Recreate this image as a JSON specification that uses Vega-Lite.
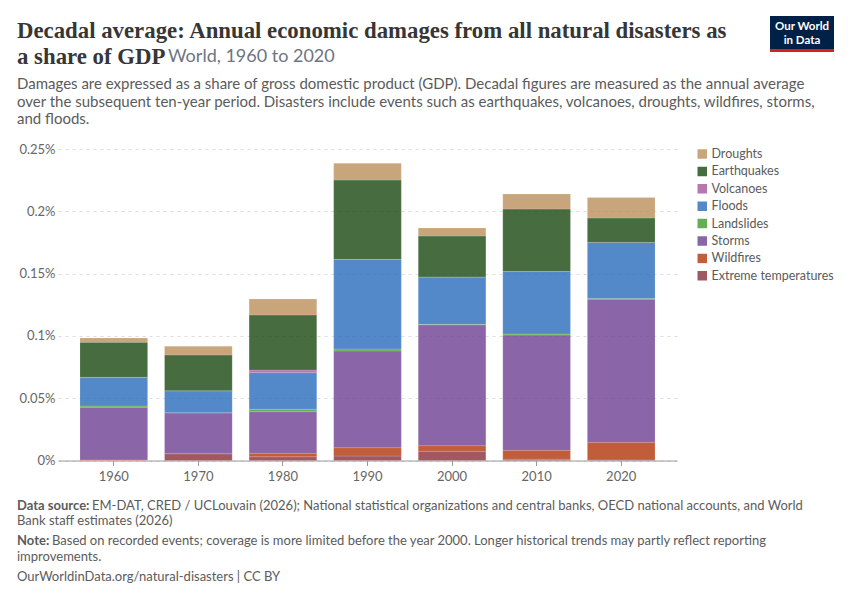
{
  "$schema": "https://vega.github.io/schema/vega-lite/v6.json",
  "width": 619,
  "height": 311.5,
  "autosize": {"type": "none"},
  "padding": {"left": 58, "top": 149, "right": 173, "bottom": 139.5},
  "background": "#ffffff",
  "title": {
    "text": ["Decadal average: Annual economic damages from all natural disasters as", "a share of GDP"],
    "subtitle": [
      "Damages are expressed as a share of gross domestic product (GDP). Decadal figures are measured as the annual average",
      "over the subsequent ten-year period. Disasters include events such as earthquakes, volcanoes, droughts, wildfires, storms,",
      "and floods."
    ],
    "anchor": "start",
    "frame": "group",
    "dx": -41,
    "offset": -111,
    "font": "Liberation Serif",
    "fontSize": 22.8,
    "fontWeight": 700,
    "lineHeight": 26,
    "color": "#363636",
    "subtitleFont": "Lato",
    "subtitleFontSize": 15,
    "subtitleLineHeight": 17.5,
    "subtitleColor": "#5b5b5b",
    "subtitlePadding": 8
  },
  "config": {
    "view": {"stroke": null},
    "text": {"font": "Lato", "align": "left", "baseline": "alphabetic"}
  },
  "layer": [
    {
      "data": {
        "values": [
          {"decade": 1960, "type": "Extreme temperatures", "rank": 1, "share": 0},
          {"decade": 1960, "type": "Wildfires", "rank": 2, "share": 0.0005},
          {"decade": 1960, "type": "Storms", "rank": 3, "share": 0.0422},
          {"decade": 1960, "type": "Landslides", "rank": 4, "share": 0.001},
          {"decade": 1960, "type": "Floods", "rank": 5, "share": 0.0231},
          {"decade": 1960, "type": "Volcanoes", "rank": 6, "share": 0},
          {"decade": 1960, "type": "Earthquakes", "rank": 7, "share": 0.0281},
          {"decade": 1960, "type": "Droughts", "rank": 8, "share": 0.0034},
          {"decade": 1970, "type": "Extreme temperatures", "rank": 1, "share": 0.0055},
          {"decade": 1970, "type": "Wildfires", "rank": 2, "share": 0},
          {"decade": 1970, "type": "Storms", "rank": 3, "share": 0.0327},
          {"decade": 1970, "type": "Landslides", "rank": 4, "share": 0.0002},
          {"decade": 1970, "type": "Floods", "rank": 5, "share": 0.0176},
          {"decade": 1970, "type": "Volcanoes", "rank": 6, "share": 0},
          {"decade": 1970, "type": "Earthquakes", "rank": 7, "share": 0.0287},
          {"decade": 1970, "type": "Droughts", "rank": 8, "share": 0.007},
          {"decade": 1980, "type": "Extreme temperatures", "rank": 1, "share": 0.003},
          {"decade": 1980, "type": "Wildfires", "rank": 2, "share": 0.0028},
          {"decade": 1980, "type": "Storms", "rank": 3, "share": 0.0334},
          {"decade": 1980, "type": "Landslides", "rank": 4, "share": 0.0019},
          {"decade": 1980, "type": "Floods", "rank": 5, "share": 0.0294},
          {"decade": 1980, "type": "Volcanoes", "rank": 6, "share": 0.0021},
          {"decade": 1980, "type": "Earthquakes", "rank": 7, "share": 0.0442},
          {"decade": 1980, "type": "Droughts", "rank": 8, "share": 0.0128},
          {"decade": 1990, "type": "Extreme temperatures", "rank": 1, "share": 0.0036},
          {"decade": 1990, "type": "Wildfires", "rank": 2, "share": 0.0067},
          {"decade": 1990, "type": "Storms", "rank": 3, "share": 0.0776},
          {"decade": 1990, "type": "Landslides", "rank": 4, "share": 0.0016},
          {"decade": 1990, "type": "Floods", "rank": 5, "share": 0.072},
          {"decade": 1990, "type": "Volcanoes", "rank": 6, "share": 0},
          {"decade": 1990, "type": "Earthquakes", "rank": 7, "share": 0.0636},
          {"decade": 1990, "type": "Droughts", "rank": 8, "share": 0.0134},
          {"decade": 2000, "type": "Extreme temperatures", "rank": 1, "share": 0.0074},
          {"decade": 2000, "type": "Wildfires", "rank": 2, "share": 0.0045},
          {"decade": 2000, "type": "Storms", "rank": 3, "share": 0.097},
          {"decade": 2000, "type": "Landslides", "rank": 4, "share": 0.0004},
          {"decade": 2000, "type": "Floods", "rank": 5, "share": 0.038},
          {"decade": 2000, "type": "Volcanoes", "rank": 6, "share": 0},
          {"decade": 2000, "type": "Earthquakes", "rank": 7, "share": 0.0329},
          {"decade": 2000, "type": "Droughts", "rank": 8, "share": 0.0064},
          {"decade": 2010, "type": "Extreme temperatures", "rank": 1, "share": 0.001},
          {"decade": 2010, "type": "Wildfires", "rank": 2, "share": 0.0072},
          {"decade": 2010, "type": "Storms", "rank": 3, "share": 0.0925},
          {"decade": 2010, "type": "Landslides", "rank": 4, "share": 0.0008},
          {"decade": 2010, "type": "Floods", "rank": 5, "share": 0.0502},
          {"decade": 2010, "type": "Volcanoes", "rank": 6, "share": 0},
          {"decade": 2010, "type": "Earthquakes", "rank": 7, "share": 0.0501},
          {"decade": 2010, "type": "Droughts", "rank": 8, "share": 0.0121},
          {"decade": 2020, "type": "Extreme temperatures", "rank": 1, "share": 0.0005},
          {"decade": 2020, "type": "Wildfires", "rank": 2, "share": 0.0141},
          {"decade": 2020, "type": "Storms", "rank": 3, "share": 0.1149},
          {"decade": 2020, "type": "Landslides", "rank": 4, "share": 0.0005},
          {"decade": 2020, "type": "Floods", "rank": 5, "share": 0.045},
          {"decade": 2020, "type": "Volcanoes", "rank": 6, "share": 0},
          {"decade": 2020, "type": "Earthquakes", "rank": 7, "share": 0.0196},
          {"decade": 2020, "type": "Droughts", "rank": 8, "share": 0.0165}
        ]
      },
      "mark": {"type": "bar", "fillOpacity": 0.8, "stroke": "#ffffff", "strokeWidth": 0.5, "strokeOpacity": 0.3},
      "encoding": {
        "x": {
          "field": "decade",
          "type": "ordinal",
          "title": null,
          "scale": {"paddingInner": 0.2, "paddingOuter": 0.26},
          "axis": {
            "labelAngle": 0,
            "labelFont": "Lato",
            "labelFontSize": 13,
            "labelColor": "#666666",
            "labelPadding": 5,
            "domainColor": "#999999",
            "tickColor": "#999999",
            "tickSize": 5,
            "grid": false
          }
        },
        "y": {
          "field": "share",
          "type": "quantitative",
          "stack": "zero",
          "title": null,
          "scale": {"domain": [0, 0.25], "nice": false},
          "axis": {
            "values": [0, 0.05, 0.1, 0.15, 0.2, 0.25],
            "labelExpr": "format(datum.value, '.2~f') + '%'",
            "labelFont": "Lato",
            "labelFontSize": 13,
            "labelColor": "#666666",
            "labelPadding": 3,
            "ticks": false,
            "domain": false,
            "gridColor": "#dddddd",
            "gridDash": [3, 4]
          }
        },
        "order": {"field": "rank", "type": "quantitative"},
        "color": {
          "field": "type",
          "type": "nominal",
          "scale": {
            "domain": ["Droughts", "Earthquakes", "Volcanoes", "Floods", "Landslides", "Storms", "Wildfires", "Extreme temperatures"],
            "range": ["#bc8e5a", "#18470f", "#a2559c", "#286bbb", "#3e9a2c", "#6d3e91", "#b13507", "#883039"]
          },
          "legend": {
            "title": null,
            "orient": "none",
            "legendX": 638,
            "legendY": -1,
            "symbolType": "square",
            "symbolSize": 90,
            "symbolOpacity": 0.8,
            "symbolStrokeWidth": 0,
            "labelFont": "Lato",
            "labelFontSize": 12.5,
            "labelColor": "#5b5b5b",
            "labelOffset": 3,
            "rowPadding": 4.4,
            "clipHeight": 12
          }
        }
      }
    },
    {
      "data": {"values": [{"label": "World, 1960 to 2020"}]},
      "mark": {"type": "text", "fontSize": 18, "color": "#6e7581"},
      "encoding": {"text": {"field": "label"}, "x": {"value": 110}, "y": {"value": -87}}
    },
    {
      "data": {"values": [{"label": "Data source:"}]},
      "mark": {"type": "text", "fontSize": 13, "fontWeight": 700, "color": "#5b5b5b"},
      "encoding": {"text": {"field": "label"}, "x": {"value": -41}, "y": {"value": 361}}
    },
    {
      "data": {"values": [{"label": "EM-DAT, CRED / UCLouvain (2026); National statistical organizations and central banks, OECD national accounts, and World"}]},
      "mark": {"type": "text", "fontSize": 13, "color": "#5b5b5b"},
      "encoding": {"text": {"field": "label"}, "x": {"value": 34}, "y": {"value": 361}}
    },
    {
      "data": {"values": [{"label": "Bank staff estimates (2026)"}]},
      "mark": {"type": "text", "fontSize": 13, "color": "#5b5b5b"},
      "encoding": {"text": {"field": "label"}, "x": {"value": -41}, "y": {"value": 376}}
    },
    {
      "data": {"values": [{"label": "Note:"}]},
      "mark": {"type": "text", "fontSize": 13, "fontWeight": 700, "color": "#5b5b5b"},
      "encoding": {"text": {"field": "label"}, "x": {"value": -41}, "y": {"value": 396}}
    },
    {
      "data": {"values": [{"label": "Based on recorded events; coverage is more limited before the year 2000. Longer historical trends may partly reflect reporting"}]},
      "mark": {"type": "text", "fontSize": 13, "color": "#5b5b5b"},
      "encoding": {"text": {"field": "label"}, "x": {"value": -6}, "y": {"value": 396}}
    },
    {
      "data": {"values": [{"label": "improvements."}]},
      "mark": {"type": "text", "fontSize": 13, "color": "#5b5b5b"},
      "encoding": {"text": {"field": "label"}, "x": {"value": -41}, "y": {"value": 412}}
    },
    {
      "data": {"values": [{"label": "OurWorldinData.org/natural-disasters | CC BY"}]},
      "mark": {"type": "text", "fontSize": 13, "color": "#5b5b5b"},
      "encoding": {"text": {"field": "label"}, "x": {"value": -41}, "y": {"value": 432}}
    },
    {
      "data": {"values": [{"part": "logo"}]},
      "mark": {"type": "rect", "color": "#002147"},
      "encoding": {"x": {"value": 712}, "x2": {"value": 776}, "y": {"value": -133}, "y2": {"value": -100}}
    },
    {
      "data": {"values": [{"part": "logo strip"}]},
      "mark": {"type": "rect", "color": "#ce261e"},
      "encoding": {"x": {"value": 712}, "x2": {"value": 776}, "y": {"value": -100}, "y2": {"value": -97}}
    },
    {
      "data": {"values": [{"label": "Our World"}]},
      "mark": {"type": "text", "fontSize": 11.5, "fontWeight": 700, "color": "#ffffff", "align": "center"},
      "encoding": {"text": {"field": "label"}, "x": {"value": 744}, "y": {"value": -119}}
    },
    {
      "data": {"values": [{"label": "in Data"}]},
      "mark": {"type": "text", "fontSize": 11.5, "fontWeight": 700, "color": "#ffffff", "align": "center"},
      "encoding": {"text": {"field": "label"}, "x": {"value": 744}, "y": {"value": -105}}
    }
  ]
}
